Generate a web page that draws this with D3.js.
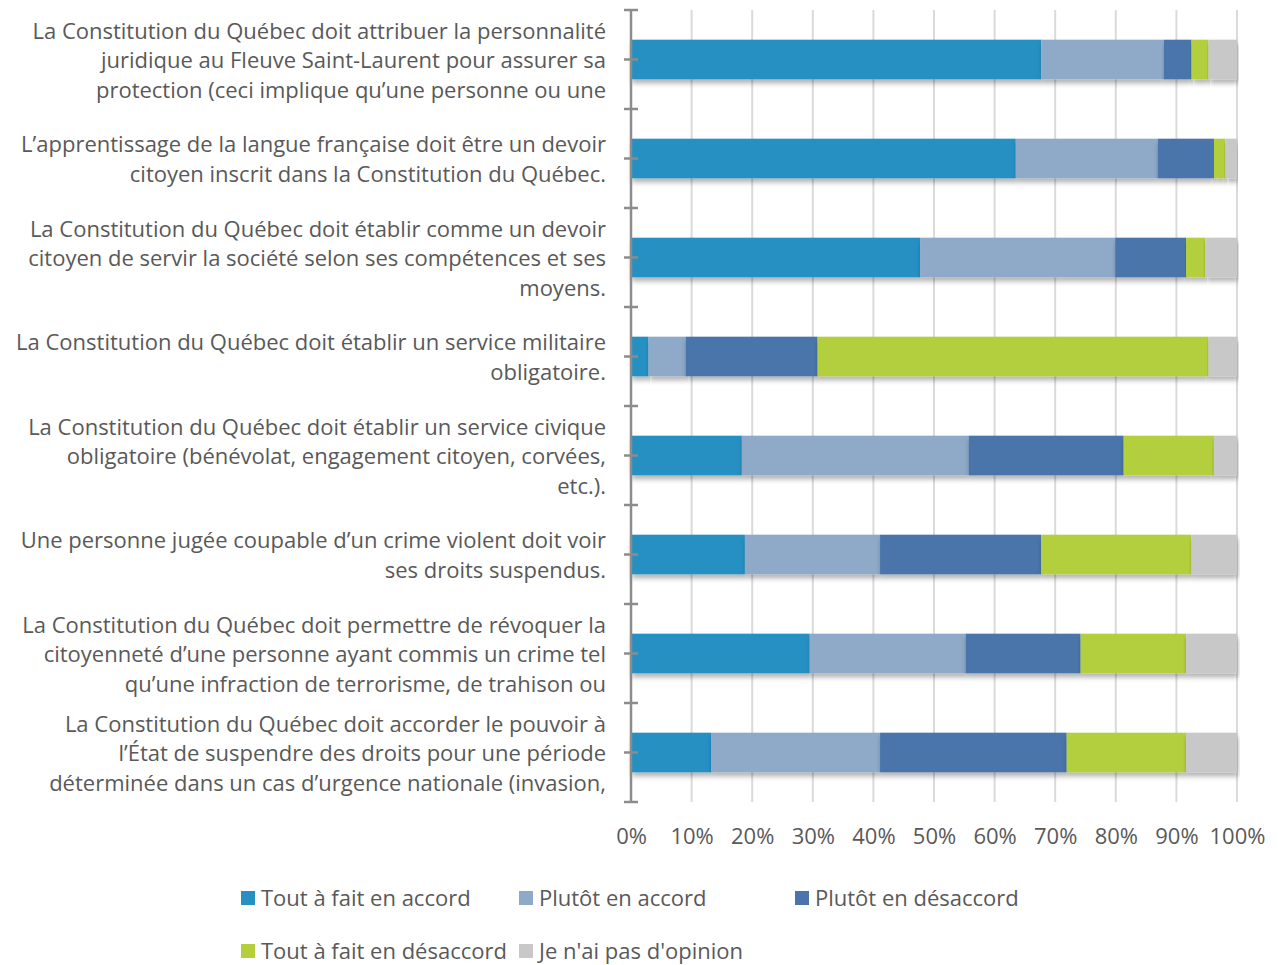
<!DOCTYPE html>
<html>
<head>
<meta charset="utf-8">
<script src="https://cdn.jsdelivr.net/npm/d3@7"></script>
<style>
  body { margin: 0; background: #fff; }
  svg { display: block; font-family: "Open Sans", sans-serif; }
</style>
</head>
<body>
<script>
// questions, as they are cut in the picture
const questions = [
  ["La Constitution du Québec doit attribuer la personnalité", "juridique au Fleuve Saint-Laurent pour assurer sa", "protection (ceci implique qu’une personne ou une"],
  ["L’apprentissage de la langue française doit être un devoir", "citoyen inscrit dans la Constitution du Québec."],
  ["La Constitution du Québec doit établir comme un devoir", "citoyen de servir la société selon ses compétences et ses", "moyens."],
  ["La Constitution du Québec doit établir un service militaire", "obligatoire."],
  ["La Constitution du Québec doit établir un service civique", "obligatoire (bénévolat, engagement citoyen, corvées,", "etc.)."],
  ["Une personne jugée coupable d’un crime violent doit voir", "ses droits suspendus."],
  ["La Constitution du Québec doit permettre de révoquer la", "citoyenneté d’une personne ayant commis un crime tel", "qu’une infraction de terrorisme, de trahison ou"],
  ["La Constitution du Québec doit accorder le pouvoir à", "l’État de suspendre des droits pour une période", "déterminée dans un cas d’urgence nationale (invasion,"]
];

const seriesNames = ["Tout à fait en accord", "Plutôt en accord", "Plutôt en désaccord", "Tout à fait en désaccord", "Je n'ai pas d'opinion"];
const seriesColors = ["#2790c3", "#8eaac8", "#4a74aa", "#b3cf3c", "#c8c8c8"];

const toutAFaitAccord    = [67.7, 63.5, 47.7, 2.9, 18.3, 18.8, 29.5, 13.2];
const plutotAccord       = [20.2, 23.4, 32.2, 6.1, 37.4, 22.3, 25.7, 27.9];
const plutotDesaccord    = [4.6, 9.3, 11.7, 21.8, 25.6, 26.6, 19.0, 30.8];
const toutAFaitDesaccord = [2.8, 1.9, 3.2, 64.5, 14.9, 24.8, 17.4, 19.7];
const sansOpinion        = [4.7, 1.9, 5.2, 4.7, 3.8, 7.5, 8.4, 8.4];

const xTickValues = [0, 10, 20, 30, 40, 50, 60, 70, 80, 90, 100];

const width = 1278;
const height = 965;
const margin = { top: 10, right: 41, bottom: 163, left: 631 };
const textColor = "#595959";
const axisColor = "#8c8c8c";

const rows = questions.map((q, i) => ({
  i: i,
  [seriesNames[0]]: toutAFaitAccord[i],
  [seriesNames[1]]: plutotAccord[i],
  [seriesNames[2]]: plutotDesaccord[i],
  [seriesNames[3]]: toutAFaitDesaccord[i],
  [seriesNames[4]]: sansOpinion[i]
}));

const svg = d3.select("body").append("svg")
  .attr("width", width)
  .attr("height", height)
  .attr("viewBox", [0, 0, width, height]);

const defs = svg.append("defs");
defs.append("filter")
  .attr("id", "shadow")
  .attr("x", "-5%").attr("y", "-20%").attr("width", "110%").attr("height", "160%")
  .append("feDropShadow")
  .attr("dx", 1).attr("dy", 4).attr("stdDeviation", 2.5)
  .attr("flood-color", "#000").attr("flood-opacity", 0.3);

const x = d3.scaleLinear()
  .domain([0, 100])
  .range([margin.left, width - margin.right]);

const y = d3.scaleBand()
  .domain(d3.range(questions.length))
  .range([margin.top, height - margin.bottom])
  .paddingInner(0.6)
  .paddingOuter(0.3);

// vertical gridlines
svg.append("g")
  .selectAll("line")
  .data(xTickValues.slice(1))
  .join("line")
  .attr("x1", d => x(d)).attr("x2", d => x(d))
  .attr("y1", margin.top).attr("y2", height - margin.bottom)
  .attr("stroke", "#dadada")
  .attr("stroke-width", 2);

// bars
const stack = d3.stack().keys(seriesNames);
const stacked = stack(rows);

svg.append("g")
  .selectAll("g")
  .data(stacked)
  .join("g")
  .attr("fill", (d, k) => seriesColors[k])
  .selectAll("rect")
  .data(d => d)
  .join("rect")
  .attr("filter", "url(#shadow)")
  .attr("x", d => x(d[0]))
  .attr("width", d => x(d[1]) - x(d[0]))
  .attr("y", d => y(d.data.i))
  .attr("height", y.bandwidth());

// y axis line with ticks at band edges and centers
const step = y.step();
const yAxis = svg.append("g").attr("stroke", axisColor).attr("stroke-width", 2.5);
yAxis.append("line")
  .attr("x1", x(0)).attr("x2", x(0))
  .attr("y1", margin.top).attr("y2", height - margin.bottom);

const tickYs = [];
for (let k = 0; k <= questions.length; k++) tickYs.push(margin.top + k * step);
questions.forEach((q, i) => tickYs.push(y(i) + y.bandwidth() / 2));

yAxis.selectAll("line.tick")
  .data(tickYs)
  .join("line")
  .attr("class", "tick")
  .attr("x1", x(0) - 7).attr("x2", x(0) + 7)
  .attr("y1", d => d).attr("y2", d => d);

// question labels
const lineH = 29.5;
svg.append("g")
  .selectAll("text")
  .data(questions)
  .join("text")
  .attr("text-anchor", "end")
  .attr("fill", textColor)
  .attr("font-size", 22)
  .each(function (lines, i) {
    const cy = y(i) + y.bandwidth() / 2;
    const t0 = cy - (lines.length - 1) * lineH / 2;
    d3.select(this).selectAll("tspan")
      .data(lines)
      .join("tspan")
      .attr("x", 606)
      .attr("y", (d, j) => t0 + j * lineH + 1)
      .attr("dy", "0.35em")
      .text(d => d);
  });

// x axis labels
const xAxis = d3.axisBottom(x)
  .tickValues(xTickValues)
  .tickFormat(d => d + "%")
  .tickSize(0)
  .tickPadding(26);

svg.append("g")
  .attr("transform", `translate(0, ${height - margin.bottom})`)
  .call(xAxis)
  .call(g => g.select(".domain").remove())
  .selectAll("text")
  .attr("fill", textColor)
  .attr("font-family", "Open Sans, sans-serif")
  .attr("font-size", 22);

// legend
const legendPos = [
  [241, 898], [519, 898], [795, 898],
  [241, 951], [519, 951]
];

const legend = svg.append("g")
  .selectAll("g")
  .data(seriesNames)
  .join("g")
  .attr("transform", (d, k) => `translate(${legendPos[k][0]}, ${legendPos[k][1]})`);

legend.append("rect")
  .attr("x", 0).attr("y", -7)
  .attr("width", 14).attr("height", 14)
  .attr("fill", (d, k) => seriesColors[k]);

legend.append("text")
  .attr("x", 20)
  .attr("dy", "0.35em")
  .attr("fill", textColor)
  .attr("font-size", 22)
  .text(d => d);
</script>
</body>
</html>
